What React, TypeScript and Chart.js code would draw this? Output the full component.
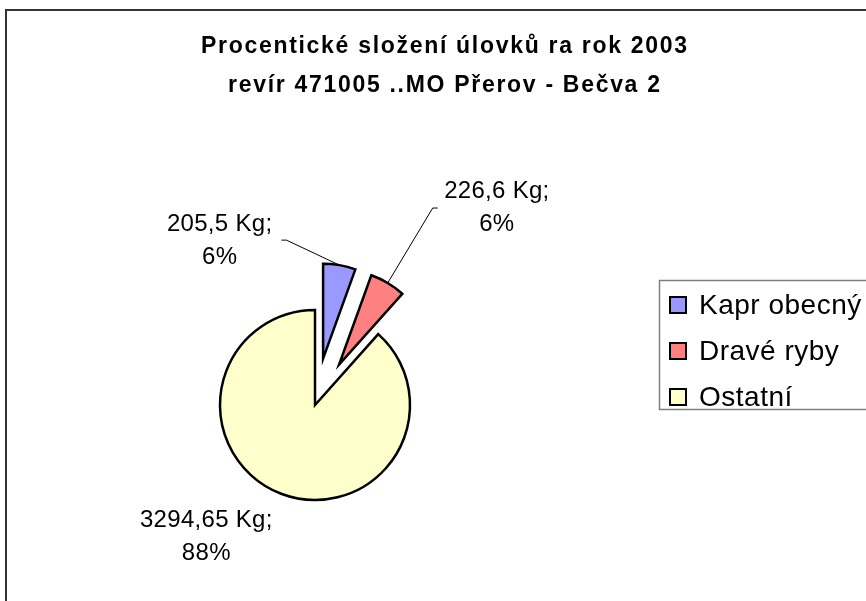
import React, { useEffect, useRef } from "react";
import { Chart, registerables, ArcElement } from "chart.js";

Chart.register(...registerables);

// ---- data ----
const categories = ["Kapr obecný", "Dravé ryby", "Ostatní"];
const weightsKg = [205.5, 226.6, 3294.65];
const titleLines = [
  "Procentické složení úlovků ra rok 2003",
  "revír 471005 ..MO Přerov - Bečva 2",
];
const unit = "Kg";

// ---- style ----
const sliceColors = ["#9999FF", "#FF8080", "#FFFFCC"];
const explodePx = [47, 47, 0];
// label centre relative to the slice's outer mid point
const labelDx = [-120, 109, -75];
const labelDy = [-26, -77, 41];
// leader lines (elbow and end, relative to outer mid point); null = none
const leaderPts: (number[] | null)[] = [
  [-53, -25, -58, -25],
  [45, -75, 50, -75],
  null,
];

const FONT = '"Liberation Sans", Arial, Helvetica, sans-serif';

function drawSpaced(ctx: CanvasRenderingContext2D, text: string, cx: number, y: number, ls: number) {
  (ctx as any).letterSpacing = "0px";
  const w0 = ctx.measureText(text).width;
  const n = [...text].length;
  const total = w0 + (n - 1) * ls;
  (ctx as any).letterSpacing = ls + "px";
  ctx.textAlign = "left";
  ctx.fillText(text, cx - total / 2, y);
  (ctx as any).letterSpacing = "0px";
}

const explodePlugin = {
  id: "explode",
  beforeDatasetsDraw(chart: any) {
    const meta = chart.getDatasetMeta(0);
    meta.data.forEach((arc: any, i: number) => {
      if (arc.__wrapped) return;
      arc.__wrapped = true;
      const orig = ArcElement.prototype.draw;
      arc.draw = function (ctx: CanvasRenderingContext2D) {
        const e = explodePx[i] || 0;
        const mid = (this.startAngle + this.endAngle) / 2;
        ctx.save();
        ctx.translate(Math.cos(mid) * e, Math.sin(mid) * e);
        orig.call(this, ctx);
        ctx.restore();
      };
    });
  },
};

const decorPlugin = {
  id: "decor",
  afterDraw(chart: any) {
    const ctx: CanvasRenderingContext2D = chart.ctx;
    ctx.save();
    // outer frame
    ctx.strokeStyle = "#333333";
    ctx.lineWidth = 2;
    ctx.beginPath();
    ctx.moveTo(6, 700);
    ctx.lineTo(6, 10);
    ctx.lineTo(900, 10);
    ctx.stroke();

    // title
    ctx.fillStyle = "#000";
    ctx.textBaseline = "alphabetic";
    ctx.font = "bold 23px " + FONT;
    drawSpaced(ctx, titleLines[0], 444, 53, 1.7);
    drawSpaced(ctx, titleLines[1], 444, 92, 1.7);

    // legend
    ctx.strokeStyle = "#7f7f7f";
    ctx.lineWidth = 1.5;
    ctx.strokeRect(659.5, 280.5, 300, 129);
    ctx.font = "28px " + FONT;
    categories.forEach((c, i) => {
      const cy = 305 + i * 46;
      ctx.fillStyle = sliceColors[i];
      ctx.fillRect(670, cy - 8, 16, 16);
      ctx.strokeStyle = "#000";
      ctx.lineWidth = 2;
      ctx.strokeRect(670, cy - 8, 16, 16);
      ctx.fillStyle = "#000";
      (ctx as any).letterSpacing = "0.5px";
      ctx.textAlign = "left";
      ctx.fillText(c, 699, cy + 9);
      (ctx as any).letterSpacing = "0px";
    });

    // data labels
    const total = weightsKg.reduce((a, b) => a + b, 0);
    const meta = chart.getDatasetMeta(0);
    ctx.font = "24px " + FONT;
    meta.data.forEach((arc: any, i: number) => {
      const p = arc.getProps(["x", "y", "startAngle", "endAngle", "outerRadius"], true);
      const mid = (p.startAngle + p.endAngle) / 2;
      const shift = explodePx[i] || 0;
      const ax = p.x + Math.cos(mid) * (shift + p.outerRadius);
      const ay = p.y + Math.sin(mid) * (shift + p.outerRadius);
      const lp = leaderPts[i];
      if (lp) {
        ctx.strokeStyle = "#000";
        ctx.lineWidth = 1;
        ctx.beginPath();
        ctx.moveTo(ax, ay);
        ctx.lineTo(ax + lp[0], ay + lp[1]);
        ctx.lineTo(ax + lp[2], ay + lp[3]);
        ctx.stroke();
      }
      const lx = ax + labelDx[i];
      const ly = ay + labelDy[i];
      const v = weightsKg[i];
      const line1 = String(v).replace(".", ",") + " " + unit + ";";
      const line2 = Math.round((v / total) * 100) + "%";
      ctx.fillStyle = "#000";
      drawSpaced(ctx, line1, lx, ly - 16.5 + 8.6, 0.3);
      drawSpaced(ctx, line2, lx, ly + 16.5 + 8.6, 0.3);
    });
    ctx.restore();
  },
};

export default function App() {
  const ref = useRef<HTMLCanvasElement>(null);
  useEffect(() => {
    if (!ref.current) return;
    const chart = new Chart(ref.current, {
      type: "pie",
      data: {
        labels: categories,
        datasets: [
          {
            data: weightsKg,
            backgroundColor: sliceColors,
            borderColor: "#000000",
            borderWidth: 2.5,
            borderJoinStyle: "miter",
          } as any,
        ],
      },
      options: {
        responsive: false,
        animation: false,
        events: [],
        radius: 95,
        layout: { padding: { left: 215, right: 451, top: 305, bottom: 96 } },
        plugins: {
          legend: { display: false },
          title: { display: false },
          tooltip: { enabled: false },
        },
      } as any,
      plugins: [explodePlugin, decorPlugin],
    });
    return () => chart.destroy();
  }, []);
  return (
    <div style={{ position: "fixed", left: 0, top: 0, width: 866, height: 601, background: "#fff" }}>
      <canvas ref={ref} width={866} height={601} style={{ width: 866, height: 601, display: "block" }} />
    </div>
  );
}
